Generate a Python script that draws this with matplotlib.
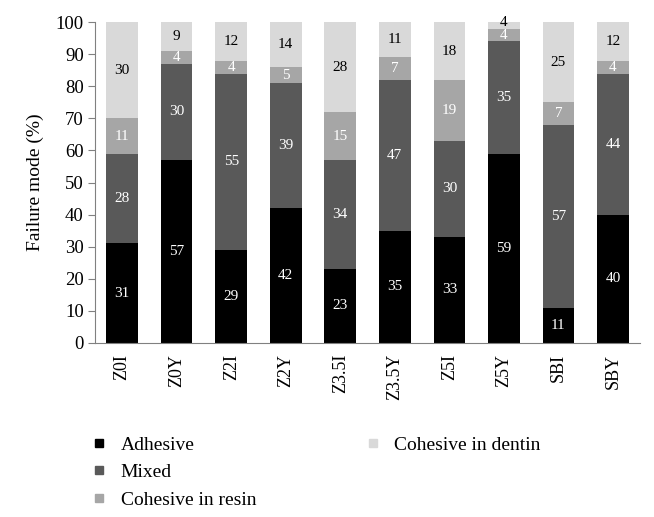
import matplotlib.pyplot as plt
from matplotlib.lines import Line2D
import numpy as np

plt.rcParams['font.family'] = ['Liberation Serif', 'DejaVu Serif']

groups = ['Z0I', 'Z0Y', 'Z2I', 'Z2Y', 'Z3.5I', 'Z3.5Y', 'Z5I', 'Z5Y', 'SBI', 'SBY']
adhesive = [31, 57, 29, 42, 23, 35, 33, 59, 11, 40]
mixed = [28, 30, 55, 39, 34, 47, 30, 35, 57, 44]
resin = [11, 4, 4, 5, 15, 7, 19, 4, 7, 4]
dentin = [30, 9, 12, 14, 28, 11, 18, 4, 25, 12]

series = [
    ('Adhesive', adhesive, '#000000', 'white'),
    ('Mixed', mixed, '#595959', 'white'),
    ('Cohesive in resin', resin, '#a6a6a6', 'white'),
    ('Cohesive in dentin', dentin, '#d9d9d9', 'black'),
]

fig = plt.figure(figsize=(6.54, 5.17), dpi=100)
ax = fig.add_axes([0.145, 0.337, 0.834, 0.62])

x = np.arange(len(groups))
bottom = np.zeros(len(groups))
for name, vals, col, tcol in series:
    vals = np.array(vals, dtype=float)
    ax.bar(x, vals, 0.58, bottom=bottom, color=col, label=name, zorder=2)
    for xi, b, v in zip(x, bottom, vals):
        ax.text(xi, b + v / 2, f'{int(v)}', ha='center', va='center',
                color=tcol, fontsize=11, zorder=3, clip_on=False)
    bottom += vals

ax.set_xlim(-0.5, len(groups) - 0.5)
ax.set_ylim(0, 100)
ax.set_yticks(range(0, 101, 10))
ax.set_xticks(x)
ax.set_xticklabels(groups, rotation=90, fontsize=13)
ax.tick_params(axis='y', labelsize=13.5, length=5, color='#808080', pad=3)
ax.tick_params(axis='x', length=0, pad=8)
ax.set_ylabel('Failure mode (%)', fontsize=14, labelpad=8)
for s in ['top', 'right']:
    ax.spines[s].set_visible(False)
for s in ['left', 'bottom']:
    ax.spines[s].set_color('#808080')

# legend: 3 entries in first column, 1 in the second
handles = [Line2D([], [], marker='s', ls='none', color=c, markersize=6)
           for _, _, c, _ in series]
blank = Line2D([], [], ls='none')
fig.legend(handles[:3] + [handles[3], blank, blank],
           [s[0] for s in series[:3]] + [series[3][0], '', ''],
           ncol=2, loc='upper left', bbox_to_anchor=(0.11, 0.19),
           frameon=False, fontsize=14, handlelength=1.0, handletextpad=0.6,
           labelspacing=0.5, columnspacing=5.5)

fig.savefig('out.png', dpi=100)
